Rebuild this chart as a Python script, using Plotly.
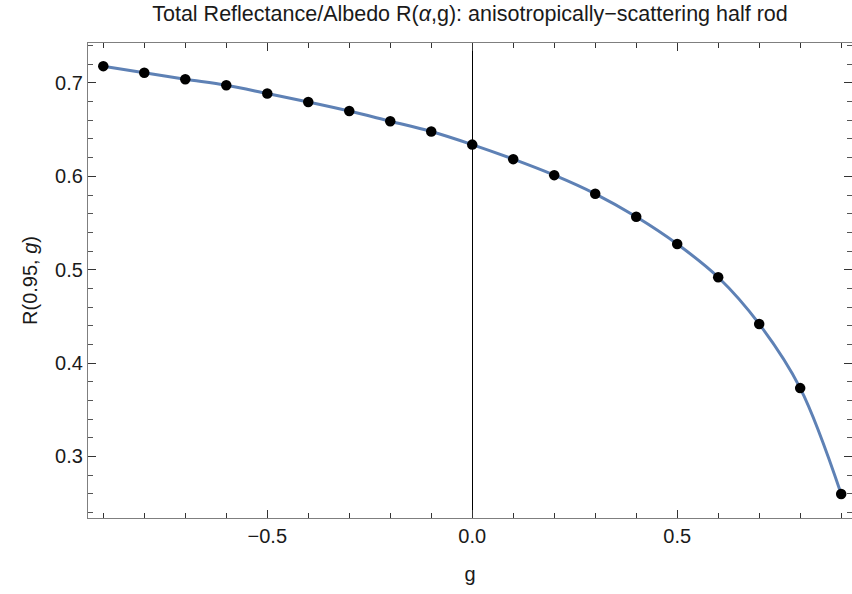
import plotly.graph_objects as go

g_values = [-0.9, -0.8, -0.7, -0.6, -0.5, -0.4, -0.3, -0.2, -0.1, 0.0,
            0.1, 0.2, 0.3, 0.4, 0.5, 0.6, 0.7, 0.8, 0.9]
R_values = [0.718, 0.711, 0.704, 0.6975, 0.6887, 0.6797, 0.670, 0.659, 0.648, 0.634,
            0.6184, 0.6013, 0.5813, 0.5567, 0.5275, 0.4919, 0.4419, 0.3732, 0.2598]

title_text = "Total Reflectance/Albedo R(<i>α</i>,g): anisotropically−scattering half rod"
x_title = "g"
y_title = "R(0.95, <i>g</i>)"

FONT = "Liberation Sans, Arial, sans-serif"

fig = go.Figure()
fig.add_trace(go.Scatter(
    x=g_values, y=R_values, mode="lines",
    line=dict(color="#5E81B5", width=3, shape="spline", smoothing=1.0),
    hoverinfo="skip", showlegend=False))
fig.add_trace(go.Scatter(
    x=g_values, y=R_values, mode="markers",
    marker=dict(color="black", size=10.5),
    showlegend=False))

frame_color = "#7f7f7f"
fig.update_layout(
    width=852, height=594,
    margin=dict(l=88, r=0, t=43, b=76),
    paper_bgcolor="white", plot_bgcolor="white",
    font=dict(family=FONT, size=20, color="#1a1a1a"),
    title=dict(text=title_text, x=0.5, xref="paper", y=0.978, yanchor="middle",
               font=dict(family=FONT, size=21.5, color="#1a1a1a")),
    xaxis=dict(
        range=[-0.9373, 0.9264],
        showgrid=False, zeroline=True, zerolinecolor="black", zerolinewidth=1,
        showline=True, linecolor=frame_color, linewidth=1.3, mirror="ticks",
        ticks="inside", ticklen=8, tickwidth=1, tickcolor="#333333",
        tick0=0, dtick=0.5, tickformat=".1f",
        minor=dict(dtick=0.1, tick0=0, ticks="inside", ticklen=4.5, tickcolor="#333333", showgrid=False),
        title=dict(text=x_title, standoff=20, font=dict(size=20)),
        tickfont=dict(size=20),
    ),
    yaxis=dict(
        range=[0.2341, 0.7428],
        showgrid=False, zeroline=False,
        showline=True, linecolor=frame_color, linewidth=1.3, mirror="ticks",
        ticks="inside", ticklen=8, tickwidth=1, tickcolor="#333333",
        tick0=0, dtick=0.1, tickformat=".1f",
        minor=dict(dtick=0.02, tick0=0, ticks="inside", ticklen=4.5, tickcolor="#555555", showgrid=False),
        title=dict(text=y_title, standoff=12, font=dict(size=20)),
        tickfont=dict(size=20),
    ),
)

fig.write_html("out.html", config={"displayModeBar": False},
               post_script="document.body.style.margin='0px';document.body.style.overflow='hidden';")
